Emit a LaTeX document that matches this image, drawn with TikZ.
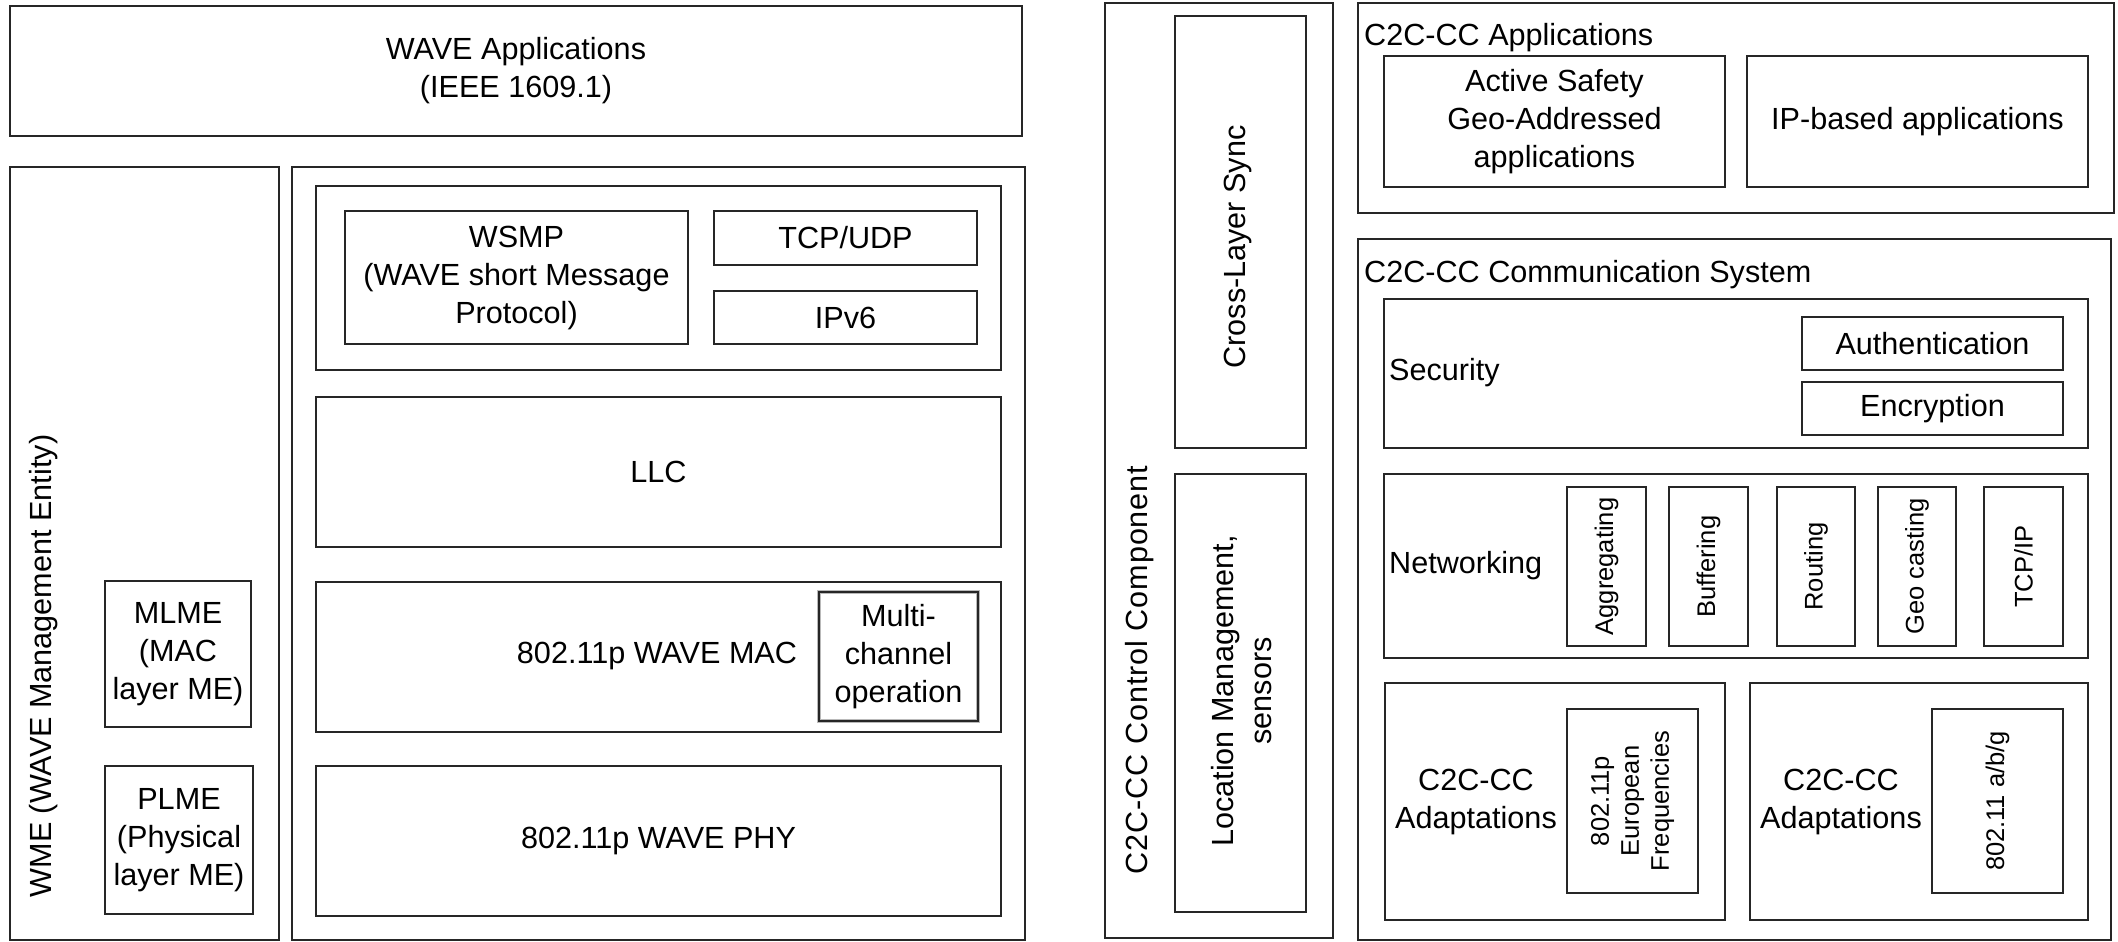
\documentclass[tikz,border=0pt]{standalone}
\usepackage{fontspec}
\setmainfont{Liberation Sans}
\newcommand\bigfs{\fontsize{30.6}{38}\selectfont}
\newcommand\smallfs{\fontsize{25.5}{30}\selectfont}
% box given by its corners (x1,y1)-(x2,y2) in pixel units, y downwards
\newcommand\boxnode[7]{%
  \node[box,#6,minimum width={(#4-#2)*1pt},minimum height={(#5-#3)*1pt}]
    (#1) at ({(#2+#4)/2},{(#3+#5)/2}) {#7};}
\tikzset{
  box/.style={draw=black!85,line width=2pt,inner sep=0pt,align=center,font=\bigfs},
  vtext/.style={rotate=90,inner sep=0pt,align=center,font=\bigfs},
  vsmall/.style={rotate=90,inner sep=0pt,align=center,font=\smallfs},
  lbl/.style={anchor=west,inner sep=0pt,font=\bigfs},
  greyedge/.style={preaction={draw=gray!55,line width=4.5pt}}
}
\begin{document}
\begin{tikzpicture}[x=1pt,y=-1pt]
\useasboundingbox (0,0) rectangle (2118,942);

% ---------------- WAVE / IEEE 1609 stack ----------------
\boxnode{wapp}{10}{6}{1022}{136}{}{WAVE Applications\\(IEEE 1609.1)}
\boxnode{wme}{10}{167}{279}{940}{}{}
\node[vtext] (wmetext) at (44,666) {WME (WAVE Management Entity)};
\boxnode{mlme}{105}{581}{251}{727}{}{MLME\\(MAC\\layer ME)}
\boxnode{plme}{105}{766}{253}{914}{}{PLME\\(Physical\\layer ME)}

\boxnode{stack}{292}{167}{1025}{940}{}{}
\boxnode{upper}{316}{186}{1001}{370}{}{}
\boxnode{wsmp}{345}{211}{688}{344}{}{WSMP\\(WAVE short Message\\Protocol)}
\boxnode{tcpudp}{714}{211}{977}{265}{}{TCP/UDP}
\boxnode{ipv6}{714}{291}{977}{344}{}{IPv6}
\boxnode{llc}{316}{397}{1001}{547}{}{LLC}
\boxnode{mac}{316}{582}{1001}{732}{}{}
\node[inner sep=0pt,font=\bigfs] (mactext) at (657,656) {802.11p WAVE MAC};
\boxnode{multi}{819}{592}{978}{721}{greyedge,line width=1.5pt}{Multi-\\channel\\operation}
\boxnode{phy}{316}{766}{1001}{916}{}{802.11p WAVE PHY}

% ---------------- C2C-CC architecture ----------------
\boxnode{ctrl}{1105}{3}{1333}{938}{}{}
\node[vtext,font=\bigfs\addfontfeature{LetterSpace=3}] (ctrltext) at (1140,670) {C2C-CC Control Component};
\boxnode{sync}{1175}{16}{1306}{448}{}{}
\node[vtext] (synctext) at (1238,247) {Cross-Layer Sync};
\boxnode{loc}{1175}{474}{1306}{912}{}{}
\node[vtext] (loctext) at (1242,691) {Location Management,\\sensors};

\boxnode{apps}{1358}{3}{2114}{213}{}{}
\node[lbl] (appslbl) at (1364,38) {C2C-CC Applications};
\boxnode{safety}{1384}{56}{1725}{187}{}{Active Safety\\Geo-Addressed\\applications}
\boxnode{ipapps}{1747}{56}{2088}{187}{}{IP-based applications}

\boxnode{comm}{1358}{239}{2111}{940}{}{}
\node[lbl] (commlbl) at (1364,275) {C2C-CC Communication System};

\boxnode{sec}{1384}{299}{2088}{448}{}{}
\node[lbl] (seclbl) at (1389,373) {Security};
\boxnode{auth}{1802}{317}{2063}{370}{}{Authentication}
\boxnode{enc}{1802}{382}{2063}{435}{}{Encryption}

\boxnode{net}{1384}{474}{2088}{658}{}{}
\node[lbl] (netlbl) at (1389,566) {Networking};
\boxnode{agg}{1567}{487}{1646}{646}{}{}
\node[vsmall] (aggtext) at (agg.center) {Aggregating};
\boxnode{buf}{1669}{487}{1748}{646}{}{}
\node[vsmall] (buftext) at (buf.center) {Buffering};
\boxnode{rout}{1777}{487}{1855}{646}{}{}
\node[vsmall] (routtext) at (rout.center) {Routing};
\boxnode{geo}{1878}{487}{1956}{646}{}{}
\node[vsmall] (geotext) at (geo.center) {Geo casting};
\boxnode{tcpip}{1984}{487}{2063}{646}{}{}
\node[vsmall] (tcpiptext) at (tcpip.center) {TCP/IP};

\boxnode{adl}{1385}{683}{1725}{920}{}{}
\node[inner sep=0pt,align=center,font=\bigfs] (adltext) at (1476,802) {C2C-CC\\Adaptations};
\boxnode{eu}{1567}{709}{1698}{893}{}{}
\node[vsmall] (eutext) at (eu.center) {802.11p\\European\\Frequencies};
\boxnode{adr}{1750}{683}{2088}{920}{}{}
\node[inner sep=0pt,align=center,font=\bigfs] (adrtext) at (1841,802) {C2C-CC\\Adaptations};
\boxnode{abg}{1932}{709}{2063}{893}{}{}
\node[vsmall] (abgtext) at (abg.center) {802.11 a/b/g};
\end{tikzpicture}
\end{document}
